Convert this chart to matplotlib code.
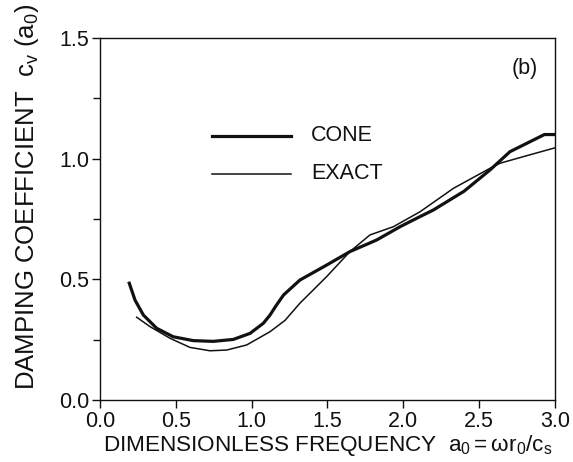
import matplotlib
matplotlib.use("Agg")
import matplotlib.pyplot as plt
from matplotlib.ticker import MultipleLocator

plt.rcParams['font.family'] = ['Liberation Sans', 'DejaVu Sans']
plt.rcParams['mathtext.fontset'] = 'custom'
plt.rcParams['mathtext.rm'] = 'Liberation Sans'
plt.rcParams['mathtext.it'] = 'Liberation Sans'
plt.rcParams['mathtext.sf'] = 'Liberation Sans'

# Cone model damping coefficient
cone_a0 = [0.193, 0.231, 0.286, 0.374, 0.483, 0.615, 0.747, 0.879, 0.989, 1.077,
           1.121, 1.16, 1.21, 1.318, 1.494, 1.648, 1.824, 1.978, 2.11, 2.197,
           2.40, 2.571, 2.703, 2.93, 3.0]
cone_cv = [0.484, 0.414, 0.352, 0.297, 0.262, 0.246, 0.243, 0.251, 0.276, 0.318,
           0.352, 0.39, 0.435, 0.497, 0.559, 0.615, 0.663, 0.718, 0.760, 0.787,
           0.865, 0.953, 1.029, 1.10, 1.10]

# Exact solution
exact_a0 = [0.242, 0.33, 0.461, 0.593, 0.725, 0.835, 0.967, 1.121, 1.22, 1.318,
            1.494, 1.648, 1.78, 1.934, 2.11, 2.33, 2.571, 2.637, 2.80, 3.0]
exact_cv = [0.343, 0.304, 0.256, 0.218, 0.204, 0.207, 0.228, 0.283, 0.33, 0.401,
            0.511, 0.615, 0.684, 0.718, 0.78, 0.877, 0.96, 0.981, 1.01, 1.045]

x_ticks = [0.0, 0.5, 1.0, 1.5, 2.0, 2.5, 3.0]
y_ticks = [0.0, 0.5, 1.0, 1.5]

fig = plt.figure(figsize=(5.73, 4.62), dpi=100)
ax = fig.add_axes([0.1745, 0.1342, 0.7941, 0.7835])

ink = '#111111'
ax.plot(cone_a0, cone_cv, color=ink, lw=2.3, solid_joinstyle='round')
ax.plot(exact_a0, exact_cv, color=ink, lw=1.1, solid_joinstyle='round')

ax.set_xlim(0, 3.0)
ax.set_ylim(0, 1.5)
ax.set_xticks(x_ticks)
ax.set_yticks(y_ticks)
ax.set_xticklabels([f"{v:.1f}" for v in x_ticks])
ax.set_yticklabels([f"{v:.1f}" for v in y_ticks])
ax.yaxis.set_minor_locator(MultipleLocator(0.25))
ax.tick_params(which='major', direction='out', length=6, width=1.0, labelsize=15.5,
               colors=ink, pad=2)
ax.tick_params(which='minor', axis='y', direction='out', length=5, width=1.0, colors=ink)
for s in ax.spines.values():
    s.set_linewidth(1.0)
    s.set_color(ink)

ax.set_xlabel(r"DIMENSIONLESS FREQUENCY  $\mathregular{a_0 = \omega r_0 / c_s}$",
              fontsize=16.2, color=ink, labelpad=1)
ax.set_ylabel(r"DAMPING COEFFICIENT  $\mathregular{c_v\ (a_0)}$",
              fontsize=18.5, color=ink)
ax.yaxis.set_label_coords(-0.13, 0.56)

# Legend drawn as short line samples with labels
ax.plot([0.74, 1.26], [1.094, 1.094], color=ink, lw=2.3)
ax.plot([0.74, 1.26], [0.937, 0.937], color=ink, lw=1.1)
ax.text(1.39, 1.094, "CONE", fontsize=15.5, va='center', ha='left', color=ink)
ax.text(1.39, 0.937, "EXACT", fontsize=15.5, va='center', ha='left', color=ink)

ax.text(2.80, 1.375, "(b)", fontsize=15.5, va='center', ha='center', color=ink)

fig.savefig("out.png", dpi=100)
